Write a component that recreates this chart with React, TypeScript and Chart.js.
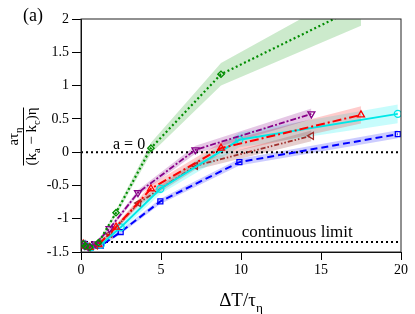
import { useEffect, useRef } from 'react';
import { Chart, registerables } from 'chart.js';
Chart.register(...registerables);

// ---- data ----
const xTicks = [0, 5, 10, 15, 20];
const yTicks = [-1.5, -1, -0.5, 0, 0.5, 1, 1.5, 2];

const greenX = [0.14, 0.27, 0.55, 1.09, 2.19, 4.37, 8.75, 17.5];
const greenY = [-1.38, -1.41, -1.43, -1.36, -0.91, 0.06, 1.17, 2.2];
const greenErr = [0.01, 0.01, 0.01, 0.02, 0.04, 0.08, 0.17, 0.3];

const purpleX = [0.11, 0.22, 0.45, 0.89, 1.78, 3.56, 7.15, 14.4];
const purpleY = [-1.37, -1.4, -1.42, -1.38, -1.15, -0.61, 0.035, 0.575];
const purpleErr = [0.01, 0.01, 0.01, 0.02, 0.03, 0.04, 0.06, 0.08];

const redX = [0.14, 0.27, 0.55, 1.09, 2.19, 4.37, 8.75, 17.5];
const redY = [-1.38, -1.41, -1.43, -1.39, -1.125, -0.55, 0.06, 0.56];
const redErr = [0.01, 0.01, 0.01, 0.02, 0.04, 0.06, 0.09, 0.13];

const cyanX = [0.16, 0.31, 0.62, 1.24, 2.48, 4.96, 9.9, 19.8];
const cyanY = [-1.38, -1.41, -1.43, -1.39, -1.13, -0.55, 0.185, 0.575];
const cyanErr = [0.01, 0.01, 0.01, 0.02, 0.05, 0.08, 0.11, 0.14];

const brownX = [0.11, 0.22, 0.45, 0.9, 1.8, 3.6, 7.15, 14.4];
const brownY = [-1.38, -1.41, -1.43, -1.4, -1.23, -0.765, -0.205, 0.245];
const brownErr = [0.01, 0.01, 0.01, 0.02, 0.03, 0.04, 0.06, 0.08];

const blueX = [0.16, 0.31, 0.62, 1.24, 2.48, 4.96, 9.9, 19.8];
const blueY = [-1.38, -1.41, -1.43, -1.405, -1.2, -0.74, -0.15, 0.27];
const blueErr = [0.01, 0.01, 0.01, 0.015, 0.03, 0.04, 0.05, 0.06];

const zeroLineY = 0;
const continuousLimitY = -1.35;

// ---- styles ----
const SERIF = '"Liberation Serif", "DejaVu Serif", serif';

const seriesList = [
  { x: greenX, y: greenY, e: greenErr, color: '#008c00', band: 'rgba(0,150,0,0.2)', dash: [2, 2.6], width: 2.2, point: 'rectRot', rot: 0, r: 3.2 },
  { x: purpleX, y: purpleY, e: purpleErr, color: '#880088', band: 'rgba(136,0,136,0.22)', dash: [6, 2, 2, 2], width: 1.8, point: 'triangle', rot: 180, r: 4 },
  { x: redX, y: redY, e: redErr, color: '#ff0000', band: 'rgba(255,0,0,0.2)', dash: [9, 3, 2, 3], width: 2, point: 'triangle', rot: 0, r: 4 },
  { x: cyanX, y: cyanY, e: cyanErr, color: '#00e8e8', band: 'rgba(0,240,240,0.22)', dash: [], width: 2, point: 'circle', rot: 0, r: 3.5 },
  { x: brownX, y: brownY, e: brownErr, color: '#a0302c', band: 'rgba(150,60,60,0.25)', dash: [5, 2, 1.5, 2, 1.5, 2], width: 1.8, point: 'triangle', rot: 270, r: 4 },
  { x: blueX, y: blueY, e: blueErr, color: '#0000ff', band: 'rgba(0,0,255,0.2)', dash: [7, 4], width: 2, point: 'rect', rot: 0, r: 3.5 },
];

type Seg = { t: string; sub?: boolean };

function drawSegs(ctx: CanvasRenderingContext2D, segs: Seg[], cx: number, baseline: number, size: number) {
  const subSize = size * 0.7;
  let total = 0;
  const widths = segs.map((s) => {
    ctx.font = `${s.sub ? subSize : size}px ${SERIF}`;
    const w = ctx.measureText(s.t).width;
    total += w;
    return w;
  });
  let x = cx - total / 2;
  ctx.textAlign = 'left';
  ctx.textBaseline = 'alphabetic';
  segs.forEach((s, i) => {
    ctx.font = `${s.sub ? subSize : size}px ${SERIF}`;
    ctx.fillText(s.t, x, baseline + (s.sub ? size * 0.3 : 0));
    x += widths[i];
  });
  return total;
}

const decorPlugin = {
  id: 'decor',
  afterDraw(chart: any) {
    const { ctx, chartArea, scales } = chart;
    ctx.save();
    // frame
    ctx.strokeStyle = '#222';
    ctx.lineWidth = 1;
    ctx.strokeRect(chartArea.left, chartArea.top, chartArea.right - chartArea.left, chartArea.bottom - chartArea.top);
    ctx.fillStyle = '#000';
    // annotations
    ctx.font = `16px ${SERIF}`;
    ctx.textAlign = 'left';
    ctx.textBaseline = 'alphabetic';
    ctx.fillText('a = 0', scales.x.getPixelForValue(2.0), scales.y.getPixelForValue(0.05));
    ctx.font = `17px ${SERIF}`;
    ctx.fillText('continuous limit', scales.x.getPixelForValue(10.05), scales.y.getPixelForValue(-1.28));
    // panel label
    ctx.font = `18px ${SERIF}`;
    ctx.fillText('(a)', 23, 21);
    // x title
    const cx = (chartArea.left + chartArea.right) / 2;
    drawSegs(ctx, [{ t: 'ΔT/τ' }, { t: 'η', sub: true }], cx, 306, 19);
    // y title (fraction, rotated)
    ctx.translate(23.5, (chartArea.top + chartArea.bottom) / 2 + 1);
    ctx.rotate(-Math.PI / 2);
    drawSegs(ctx, [{ t: 'aτ' }, { t: 'η', sub: true }], 0, -6, 15);
    ctx.beginPath();
    ctx.moveTo(-29, 0);
    ctx.lineTo(29, 0);
    ctx.lineWidth = 1;
    ctx.strokeStyle = '#000';
    ctx.stroke();
    drawSegs(ctx, [{ t: '(k' }, { t: 'a', sub: true }, { t: ' − k' }, { t: 'c', sub: true }, { t: ')η' }], 0, 12, 15);
    ctx.restore();
  },
};

export default function App() {
  const ref = useRef<HTMLCanvasElement | null>(null);
  useEffect(() => {
    if (!ref.current) return;
    const datasets: any[] = [];
    seriesList.forEach((s) => {
      datasets.push({
        data: s.x.map((v, j) => ({ x: v, y: s.y[j] + s.e[j] })),
        borderWidth: 0,
        pointRadius: 0,
        fill: false,
        order: 20,
        clip: 0,
      });
      datasets.push({
        data: s.x.map((v, j) => ({ x: v, y: s.y[j] - s.e[j] })),
        borderWidth: 0,
        pointRadius: 0,
        fill: '-1',
        backgroundColor: s.band,
        order: 20,
        clip: 0,
      });
    });
    datasets.push({
      data: [{ x: 0, y: zeroLineY }, { x: 20, y: zeroLineY }],
      borderColor: '#000', borderWidth: 2, borderDash: [2, 3], pointRadius: 0, fill: false, order: 10,
    });
    datasets.push({
      data: [{ x: 0, y: continuousLimitY }, { x: 20, y: continuousLimitY }],
      borderColor: '#000', borderWidth: 2, borderDash: [2, 3], pointRadius: 0, fill: false, order: 10,
    });
    seriesList.forEach((s) => {
      datasets.push({
        data: s.x.map((v, j) => ({ x: v, y: s.y[j] })),
        borderColor: s.color,
        borderWidth: s.width,
        borderDash: s.dash,
        pointStyle: s.point,
        pointRotation: s.rot,
        pointRadius: s.r,
        pointBorderWidth: 1.3,
        pointBorderColor: s.color,
        pointBackgroundColor: 'rgba(0,0,0,0)',
        fill: false,
        order: 1,
        clip: 0,
      });
    });
    const tickFont = { family: SERIF, size: 14 };
    const chart = new Chart(ref.current, {
      type: 'line',
      data: { datasets },
      plugins: [decorPlugin],
      options: {
        animation: false,
        responsive: false,
        devicePixelRatio: 1,
        layout: { padding: { top: 19, right: 14, left: 0, bottom: 0 } },
        plugins: { legend: { display: false }, tooltip: { enabled: false } },
        elements: { line: { tension: 0 } },
        scales: {
          x: {
            type: 'linear',
            min: 0,
            max: 20,
            afterBuildTicks: (s: any) => { s.ticks = xTicks.map((v) => ({ value: v })); },
            afterFit: (s: any) => { s.height = 62; },
            ticks: { font: tickFont, color: '#000', padding: 2, maxRotation: 0, callback: (v: any) => String(v) },
            grid: { drawOnChartArea: false, drawTicks: true, tickLength: 8, color: '#000' },
            border: { color: '#000', width: 1 },
          },
          y: {
            type: 'linear',
            min: -1.5,
            max: 2,
            afterBuildTicks: (s: any) => { s.ticks = yTicks.map((v) => ({ value: v })); },
            afterFit: (s: any) => { s.width = 81; },
            ticks: { font: tickFont, color: '#000', padding: 3, callback: (v: any) => String(v) },
            grid: { drawOnChartArea: false, drawTicks: true, tickLength: 9, color: '#000' },
            border: { color: '#000', width: 1 },
          },
        },
      } as any,
    });
    return () => chart.destroy();
  }, []);
  return (
    <div style={{ position: 'absolute', left: 0, top: 0, width: 415, height: 314, background: '#fff' }}>
      <canvas ref={ref} width={415} height={314} style={{ width: 415, height: 314, display: 'block' }} />
    </div>
  );
}
